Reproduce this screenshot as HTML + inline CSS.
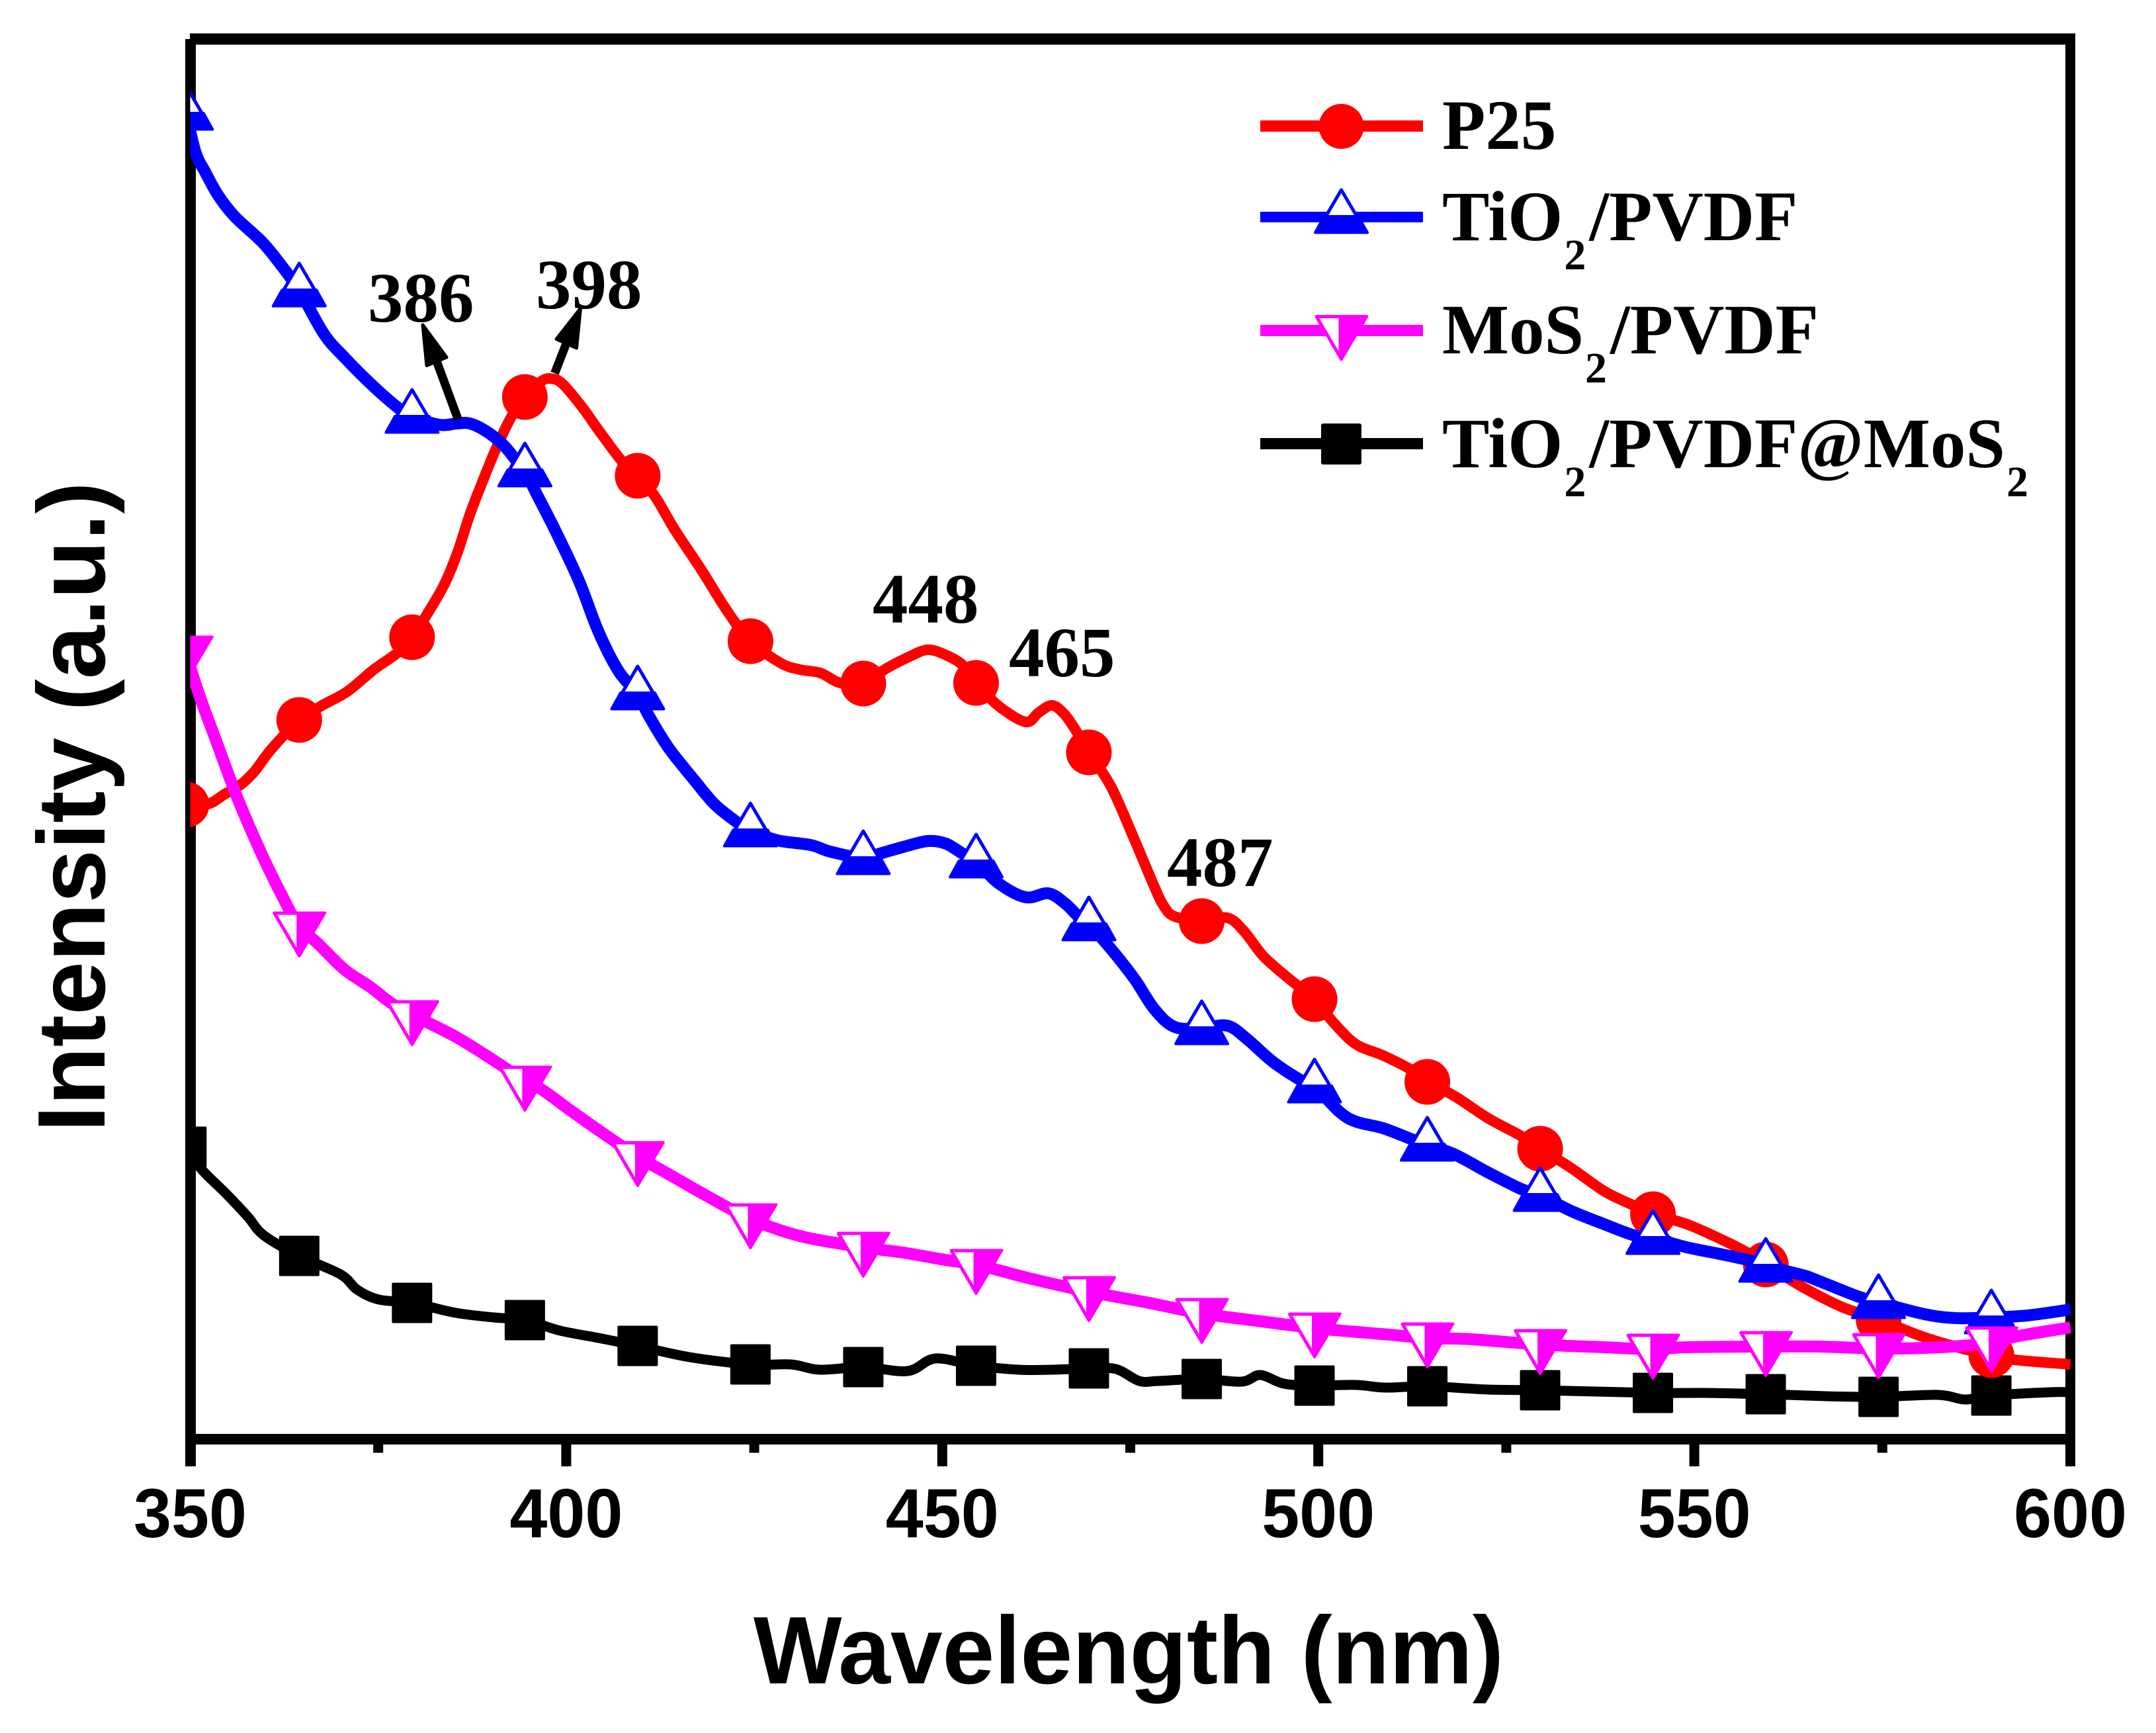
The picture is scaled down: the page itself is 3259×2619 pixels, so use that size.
<!DOCTYPE html>
<html lang="en">
<head>
<meta charset="utf-8">
<title>Photoluminescence spectra</title>
<style>
html,body{margin:0;padding:0;background:#fff;}
svg{display:block;}
.sans{font-family:"Liberation Sans",Arial,sans-serif;font-weight:bold;fill:#000;}
.serif{font-family:"Liberation Serif","Times New Roman",serif;font-weight:bold;fill:#000;}
</style>
</head>
<body>
<svg id="chart" xmlns="http://www.w3.org/2000/svg" width="3259" height="2619" viewBox="0 0 3259 2619">
  <rect x="0" y="0" width="3259" height="2619" fill="#fff"/>
  <defs>
    <clipPath id="plot-clip"><rect x="287.5" y="0" width="2843.5" height="2619"/></clipPath>
  </defs>
  <g id="axes">
    <rect x="280" y="59" width="16" height="2157" fill="#000"/>
    <rect x="287" y="50.5" width="2850" height="17" fill="#000"/>
    <rect x="3122" y="50.5" width="15" height="2165.5" fill="#000"/>
    <rect x="280" y="2167" width="2857" height="16" fill="#000"/>
  </g>
  <g id="ticks"></g>
  <text class="sans" x="1139" y="2544" font-size="145" textLength="1134" lengthAdjust="spacingAndGlyphs">Wavelength (nm)</text>
  <text class="sans" transform="translate(158,1711) rotate(-90)" font-size="145">Intensity (a.u.)</text>
  <g id="series-layer" clip-path="url(#plot-clip)"></g>

  <g id="annotations">
    <text class="serif" x="556" y="486" font-size="107">386</text>
    <text class="serif" x="810" y="466" font-size="107">398</text>
    <text class="serif" x="1319" y="941" font-size="107">448</text>
    <text class="serif" x="1525" y="1022" font-size="107">465</text>
    <text class="serif" x="1764" y="1339" font-size="107">487</text>
    <g>
      <line x1="692.5" y1="634" x2="660" y2="546" stroke="#000" stroke-width="13"/>
      <polygon points="639,491 645,552.5 675,540" fill="#000" stroke="#000" stroke-width="5" stroke-linejoin="round"/>
    </g>
    <g>
      <line x1="838.5" y1="564" x2="856" y2="519" stroke="#000" stroke-width="13"/>
      <polygon points="877.5,466 841,512.5 871.5,526" fill="#000" stroke="#000" stroke-width="5" stroke-linejoin="round"/>
    </g>
  </g>

  <g id="legend">
    <g>
      <rect x="1905" y="182" width="246" height="17" fill="#ff0000"/>
      <circle cx="2027.5" cy="191" r="34" fill="#ff0000"/>
      <text class="serif" x="2180" y="225" font-size="107">P25</text>
    </g>
    <g>
      <rect x="1905" y="320" width="246" height="16" fill="#0000ff"/>
      <g id="legend-marker-up"></g>
      <text class="serif" x="2180" y="363" font-size="107">TiO<tspan font-size="66" dy="44" dx="2">2</tspan><tspan dy="-44" dx="5">/PVDF</tspan></text>
    </g>
    <g>
      <rect x="1905" y="491" width="246" height="17" fill="#ff00ff"/>
      <g id="legend-marker-down"></g>
      <text class="serif" x="2180" y="534" font-size="107">MoS<tspan font-size="66" dy="44" dx="2">2</tspan><tspan dy="-44" dx="5">/PVDF</tspan></text>
    </g>
    <g>
      <rect x="1905" y="662" width="246" height="17" fill="#000"/>
      <rect x="1997" y="640" width="61" height="62" rx="3" fill="#000"/>
      <text class="serif" x="2180" y="706" font-size="107">TiO<tspan font-size="66" dy="44" dx="2">2</tspan><tspan dy="-44" dx="5">/PVDF@MoS</tspan><tspan font-size="66" dy="44" dx="2">2</tspan></text>
    </g>
  </g>
</svg>

<script>
var majorTicks = [350, 400, 450, 500, 550, 600];
var minorTicks = [375, 425, 475, 525, 575];
var tickLabels = ['350', '400', '450', '500', '550', '600'];
var markerWavelengths = [349.5, 364.5, 379.5, 394.5, 409.5, 424.5, 439.5, 454.5, 469.5, 484.5, 499.5, 514.5, 529.5, 544.5, 559.5, 574.5, 589.5];

var p25Wavelength = [349.5, 352.4, 354.6, 356.8, 358.6, 360.8, 364.5, 367.4, 370.9, 374.4, 377.5, 379.5, 381.4, 383.8, 385.6, 387.2, 388.9, 390.7, 392.7, 394.5, 396.6, 397.9, 399.5, 402.1, 404.3, 407.4, 409.5, 411.8, 414.4, 417.9, 421.5, 424.5, 428.5, 431.1, 433.8, 436.4, 439.5, 442.6, 445.7, 448.1, 450.5, 452.7, 454.5, 457.5, 461.1, 462.8, 464.6, 466.3, 468.1, 469.5, 472.5, 475.6, 478.2, 479.5, 480.9, 484.5, 487.9, 490.1, 492.7, 496.2, 499.5, 502.0, 505.0, 508.6, 512.1, 514.5, 518.2, 522.6, 527.0, 529.5, 533.6, 538.0, 541.6, 544.5, 549.0, 553.4, 557.4, 559.5, 564.4, 569.6, 574.5, 580.6, 586.0, 589.5, 592.6, 600];
var p25Intensity = [959, 960, 975, 990, 1010, 1043, 1087, 1108, 1130, 1163, 1188, 1212, 1245, 1292, 1342, 1398, 1448, 1498, 1545, 1575, 1598, 1603, 1595, 1560, 1525, 1478, 1456, 1425, 1375, 1315, 1250, 1206, 1173, 1163, 1158, 1143, 1142, 1165, 1183, 1193, 1185, 1170, 1143, 1108, 1084, 1098, 1109, 1095, 1065, 1038, 985, 905, 835, 805, 790, 783, 788, 768, 730, 695, 665, 630, 597, 580, 560, 540, 518, 485, 458, 439, 410, 375, 355, 340, 325, 303, 280, 264, 230, 200, 181, 154, 136, 127, 120, 113];

var tio2Wavelength = [349.5, 350.7, 352.0, 353.7, 355.9, 359.5, 361.7, 364.5, 367.8, 370.5, 374.0, 377.5, 379.5, 383.2, 385.4, 387.2, 389.4, 391.6, 393.3, 394.5, 396.0, 398.6, 401.7, 404.3, 407.0, 409.5, 410.9, 413.6, 417.1, 419.7, 422.4, 424.5, 428.1, 432.5, 435.1, 439.5, 441.7, 444.8, 448.1, 450.5, 452.7, 454.5, 457.5, 461.1, 464.1, 466.3, 468.1, 469.5, 472.5, 475.6, 478.2, 480.9, 484.5, 487.9, 490.5, 494.0, 497.6, 499.5, 502.8, 505.0, 508.6, 512.5, 514.5, 518.2, 522.6, 527.0, 529.5, 533.6, 538.0, 542.0, 544.5, 549.0, 553.4, 557.4, 559.5, 564.4, 565.7, 571.7, 574.5, 580.6, 584.8, 589.5, 594.3, 600];
var tio2Intensity = [2003, 1945, 1915, 1880, 1848, 1810, 1780, 1736, 1670, 1635, 1595, 1560, 1545, 1533, 1535, 1535, 1523, 1503, 1480, 1464, 1430, 1372, 1297, 1220, 1160, 1127, 1095, 1045, 995, 960, 935, 920, 905, 898, 888, 878, 885, 895, 904, 900, 885, 873, 840, 819, 825, 810, 790, 778, 740, 695, 650, 623, 621, 625, 605, 570, 543, 533, 495, 480, 470, 453, 445, 430, 403, 378, 369, 345, 325, 308, 304, 290, 280, 270, 262, 248, 243, 216, 207, 189, 183, 184, 187, 196];

var mos2Wavelength = [349.5, 350.2, 351.5, 353.3, 355.9, 358.1, 360.3, 362.5, 364.5, 366.9, 370.5, 374.0, 376.6, 379.5, 381.9, 385.8, 390.7, 394.5, 396.8, 400.8, 404.8, 409.5, 413.4, 418.8, 424.5, 431.1, 439.5, 444.8, 450.9, 454.5, 462.0, 469.5, 477.5, 484.5, 491.1, 499.5, 505.2, 509.4, 514.5, 520.4, 529.5, 538.0, 544.5, 549.0, 559.5, 566.6, 574.5, 580.6, 586.6, 589.5, 593.1, 600];
var mos2Intensity = [1191, 1160, 1115, 1060, 980, 920, 865, 815, 774, 750, 710, 683, 660, 640, 628, 605, 570, 541, 528, 495, 463, 427, 402, 367, 333, 307, 290, 282, 270, 264, 242, 223, 206, 190, 180, 168, 162, 158, 153, 151, 143, 139, 136, 139, 140, 140, 137, 138, 142, 147, 156, 169];

var compositeWavelength = [349.5, 351.5, 354.7, 357.6, 359.8, 364.5, 370.0, 372.2, 375.1, 379.5, 385.3, 390.4, 394.5, 399.2, 404.3, 409.5, 416.4, 424.5, 429.9, 433.7, 439.5, 445.4, 449.1, 454.5, 460.2, 464.5, 469.5, 473.1, 476.2, 478.7, 484.5, 489.8, 492.3, 495.4, 499.5, 505.0, 509.0, 514.5, 522.6, 529.5, 544.5, 551.2, 559.5, 567.5, 574.5, 582.4, 586.0, 589.5, 597.3, 600];
var compositeIntensity = [442, 408, 372, 337, 308, 277, 249, 226, 211, 206, 191, 184, 180, 164, 153, 141, 124, 113, 113, 105, 109, 103, 122, 111, 105, 105, 107, 106, 88, 88, 91, 87, 97, 84, 81, 82, 78, 80, 75, 74, 70, 70, 68, 65, 64, 67, 60, 66, 71, 71];

var SVGNS = 'http://www.w3.org/2000/svg';

function xScale(nm) { return 287.5 + (nm - 350) * 11.368; }
function yScale(v) { return 2175 - v; }

function make(tag, attrs, parent) {
  var node = document.createElementNS(SVGNS, tag);
  for (var k in attrs) { node.setAttribute(k, attrs[k]); }
  if (parent) { parent.appendChild(node); }
  return node;
}

function interp(xs, ys, x) {
  if (x <= xs[0]) { return ys[0]; }
  for (var i = 1; i < xs.length; i++) {
    if (x <= xs[i]) {
      var t = (x - xs[i - 1]) / (xs[i] - xs[i - 1]);
      return ys[i - 1] + t * (ys[i] - ys[i - 1]);
    }
  }
  return ys[ys.length - 1];
}

function smoothPath(xs, ys) {
  var pts = xs.map(function (x, i) { return [xScale(x), yScale(ys[i])]; });
  var d = 'M' + pts[0][0].toFixed(1) + ' ' + pts[0][1].toFixed(1);
  for (var i = 0; i < pts.length - 1; i++) {
    var p0 = pts[Math.max(0, i - 1)];
    var p1 = pts[i];
    var p2 = pts[i + 1];
    var p3 = pts[Math.min(pts.length - 1, i + 2)];
    var c1x = p1[0] + (p2[0] - p0[0]) / 6;
    var c1y = p1[1] + (p2[1] - p0[1]) / 6;
    var c2x = p2[0] - (p3[0] - p1[0]) / 6;
    var c2y = p2[1] - (p3[1] - p1[1]) / 6;
    d += 'C' + c1x.toFixed(1) + ' ' + c1y.toFixed(1) + ' ' + c2x.toFixed(1) + ' ' + c2y.toFixed(1) + ' ' + p2[0].toFixed(1) + ' ' + p2[1].toFixed(1);
  }
  return d;
}

function pts(list) {
  return list.map(function (p) { return p[0].toFixed(1) + ',' + p[1].toFixed(1); }).join(' ');
}

function drawUp(g, cx, cy, color) {
  make('polygon', {
    points: pts([[cx, cy - 41], [cx + 37.5, cy + 23], [cx - 37.5, cy + 23]]),
    fill: '#fff', stroke: color, 'stroke-width': 5, 'stroke-linejoin': 'round'
  }, g);
  make('polygon', {
    points: pts([[cx - 25.9, cy - 1], [cx + 25.9, cy - 1], [cx + 39.5, cy + 23.5], [cx - 39.5, cy + 23.5]]),
    fill: color, stroke: color, 'stroke-width': 4, 'stroke-linejoin': 'round'
  }, g);
}

function drawDown(g, cx, cy, color) {
  make('polygon', {
    points: pts([[cx - 37.5, cy - 21], [cx + 37.5, cy - 21], [cx, cy + 43]]),
    fill: '#fff', stroke: color, 'stroke-width': 5, 'stroke-linejoin': 'round'
  }, g);
  make('polygon', {
    points: pts([[cx - 2, cy - 21.5], [cx + 39, cy - 21.5], [cx, cy + 44], [cx - 2, cy + 40]]),
    fill: color, stroke: color, 'stroke-width': 4, 'stroke-linejoin': 'round'
  }, g);
}

var ticksGroup = document.getElementById('ticks');
majorTicks.forEach(function (t, i) {
  var tick = make('rect', { x: xScale(t) - 7.5, y: 2175, width: 15, height: 41, fill: '#000' }, ticksGroup);
  
  
  var label = make('text', { x: xScale(t), y: 2323, 'text-anchor': 'middle', 'font-size': 105, 'class': 'sans', textLength: 171, lengthAdjust: 'spacingAndGlyphs' }, ticksGroup);
  
  
  label.textContent = tickLabels[i];
});
minorTicks.forEach(function (t) {
  var tick = make('rect', { x: xScale(t) - 7.5, y: 2175, width: 15, height: 20.5, fill: '#000' }, ticksGroup);
  
  
});

var layer = document.getElementById('series-layer');

function drawSeries(name, xs, ys, color, width, marker) {
  var g = make('g', {}, layer);
  
  
  var line = make('path', {
    d: smoothPath(xs, ys), fill: 'none', stroke: color, 'stroke-width': width,
    'stroke-linejoin': 'round', 'stroke-linecap': 'butt'
  }, g);
  
  
  markerWavelengths.forEach(function (nm) {
    var cx = xScale(nm);
    var cy = yScale(interp(xs, ys, nm));
    var m = make('g', {}, g);
    
    
    if (marker === 'circle') {
      make('circle', { cx: cx, cy: cy, r: 34.5, fill: color }, m);
    } else if (marker === 'square') {
      make('rect', { x: cx - 30.5, y: cy - 30.5, width: 61, height: 61, rx: 2, fill: color }, m);
    } else if (marker === 'up') {
      drawUp(m, cx, cy, color);
    } else {
      drawDown(m, cx, cy, color);
    }
  });
}

drawSeries('tio2-pvdf-mos2', compositeWavelength, compositeIntensity, '#000000', 15, 'square');
drawSeries('p25', p25Wavelength, p25Intensity, '#ff0000', 16, 'circle');
drawSeries('tio2-pvdf', tio2Wavelength, tio2Intensity, '#0000ff', 18, 'up');
drawSeries('mos2-pvdf', mos2Wavelength, mos2Intensity, '#ff00ff', 18, 'down');

drawUp(document.getElementById('legend-marker-up'), 2027.5, 328, '#0000ff');
drawDown(document.getElementById('legend-marker-down'), 2027.5, 499.5, '#ff00ff');
</script>
</body>
</html>
